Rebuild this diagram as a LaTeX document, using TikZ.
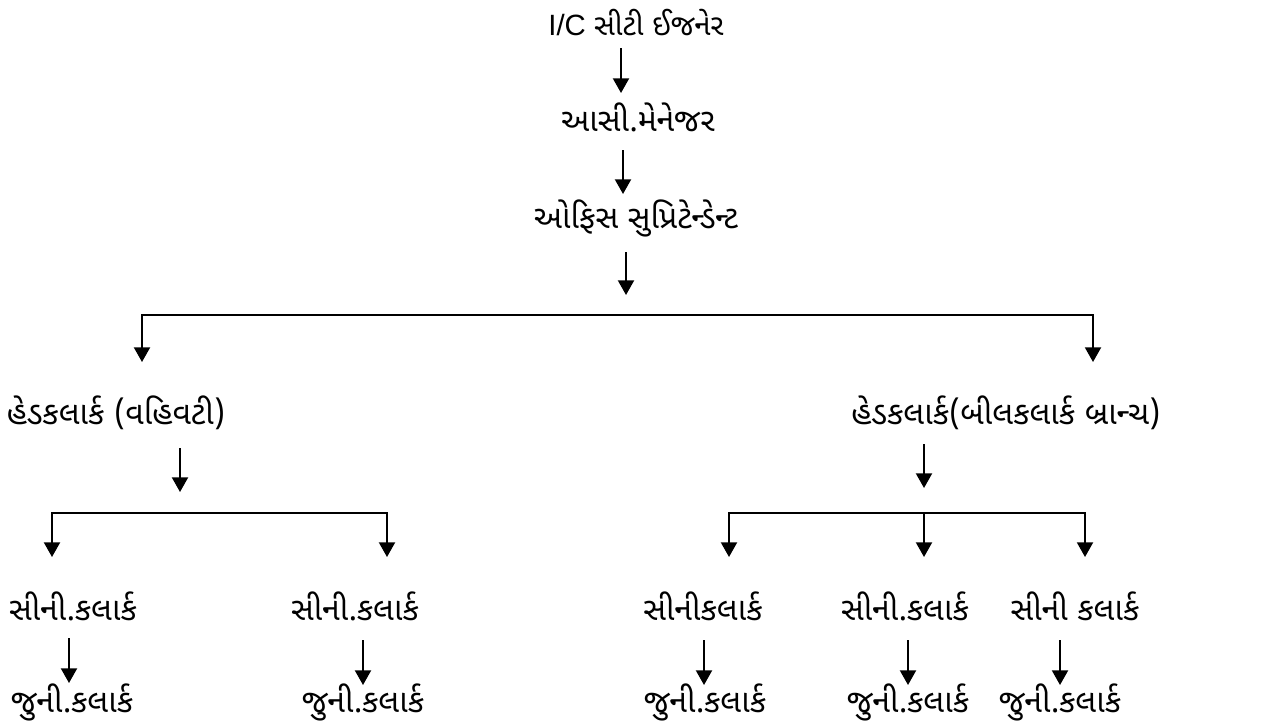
\documentclass[tikz,border=0pt]{standalone}
\usepackage{fontspec}
\setmainfont{Liberation Sans}
\newfontfamily\guj[Script=Gujarati]{Noto Sans Gujarati UI}
\usetikzlibrary{arrows.meta}
\begin{document}
\begin{tikzpicture}[x=0.75pt,y=-0.75pt,
  lbl/.style={font=\guj\fontsize{24}{28}\selectfont, inner sep=0pt, anchor=base},
  arr/.style={line width=1.5pt, -{Triangle[width=12pt,length=11pt]}},
  bus/.style={line width=1.5pt, {Triangle[width=12pt,length=11pt]}-{Triangle[width=12pt,length=11pt]}}]
\useasboundingbox (0,0) rectangle (1266,726);

% posts
\node[lbl, font=\fontsize{22}{26}\selectfont] (ic) at (636,35) {I/C {\guj\fontsize{22}{26}\selectfont સીટી ઈજનેર}};
\node[lbl] (asi) at (638,131) {આસી.મેનેજર};
\node[lbl] (ofs) at (636,228) {ઓફિસ સુપ્રિટેન્ડેન્ટ};
\node[lbl] (hc1) at (116,424) {હેડકલાર્ક (વહિવટી)};
\node[lbl] (hc2) at (1006,424) {હેડકલાર્ક(બીલકલાર્ક બ્રાન્ચ)};
\node[lbl] (s1) at (73,620) {સીની.કલાર્ક};
\node[lbl] (s2) at (355,620) {સીની.કલાર્ક};
\node[lbl] (s3) at (703,620) {સીનીકલાર્ક};
\node[lbl] (s4) at (905,620) {સીની.કલાર્ક};
\node[lbl] (s5) at (1075,620) {સીની કલાર્ક};
\node[lbl] (j1) at (72,712) {જુની.કલાર્ક};
\node[lbl] (j2) at (363,712) {જુની.કલાર્ક};
\node[lbl] (j3) at (705,712) {જુની.કલાર્ક};
\node[lbl] (j4) at (908,712) {જુની.કલાર્ક};
\node[lbl] (j5) at (1060,712) {જુની.કલાર્ક};

% arrow end points
\coordinate (a1) at (621,48);  \coordinate (b1) at (621,93);
\coordinate (a2) at (623,150); \coordinate (b2) at (623,194);
\coordinate (a3) at (626,252); \coordinate (b3) at (626,295);
\coordinate (m1) at (142,362); \coordinate (n1) at (142,315);
\coordinate (m2) at (1093,362); \coordinate (n2) at (1093,315);
\coordinate (a4) at (180,448); \coordinate (b4) at (180,492);
\coordinate (m3) at (52,557);  \coordinate (n3) at (52,513);
\coordinate (m4) at (387,557); \coordinate (n4) at (387,513);
\coordinate (a5) at (924,444); \coordinate (b5) at (924,488);
\coordinate (m5) at (729,557); \coordinate (n5) at (729,513);
\coordinate (m6) at (1085,557);\coordinate (n6) at (1085,513);
\coordinate (m7) at (924,557); \coordinate (n7) at (924,513);
\coordinate (c1) at (69,638);  \coordinate (d1) at (69,683);
\coordinate (c2) at (363,640); \coordinate (d2) at (363,685);
\coordinate (c3) at (704,640); \coordinate (d3) at (704,685);
\coordinate (c4) at (908,640); \coordinate (d4) at (908,685);
\coordinate (c5) at (1060,640);\coordinate (d5) at (1060,685);

% connectors
\draw[arr] (a1) -- (b1);
\draw[arr] (a2) -- (b2);
\draw[arr] (a3) -- (b3);
\draw[bus] (m1) -- (n1) -- (n2) -- (m2);
\draw[arr] (a4) -- (b4);
\draw[bus] (m3) -- (n3) -- (n4) -- (m4);
\draw[arr] (a5) -- (b5);
\draw[bus] (m5) -- (n5) -- (n6) -- (m6);
\draw[arr] (n7) -- (m7);
\draw[arr] (c1) -- (d1);
\draw[arr] (c2) -- (d2);
\draw[arr] (c3) -- (d3);
\draw[arr] (c4) -- (d4);
\draw[arr] (c5) -- (d5);
\end{tikzpicture}
\end{document}
